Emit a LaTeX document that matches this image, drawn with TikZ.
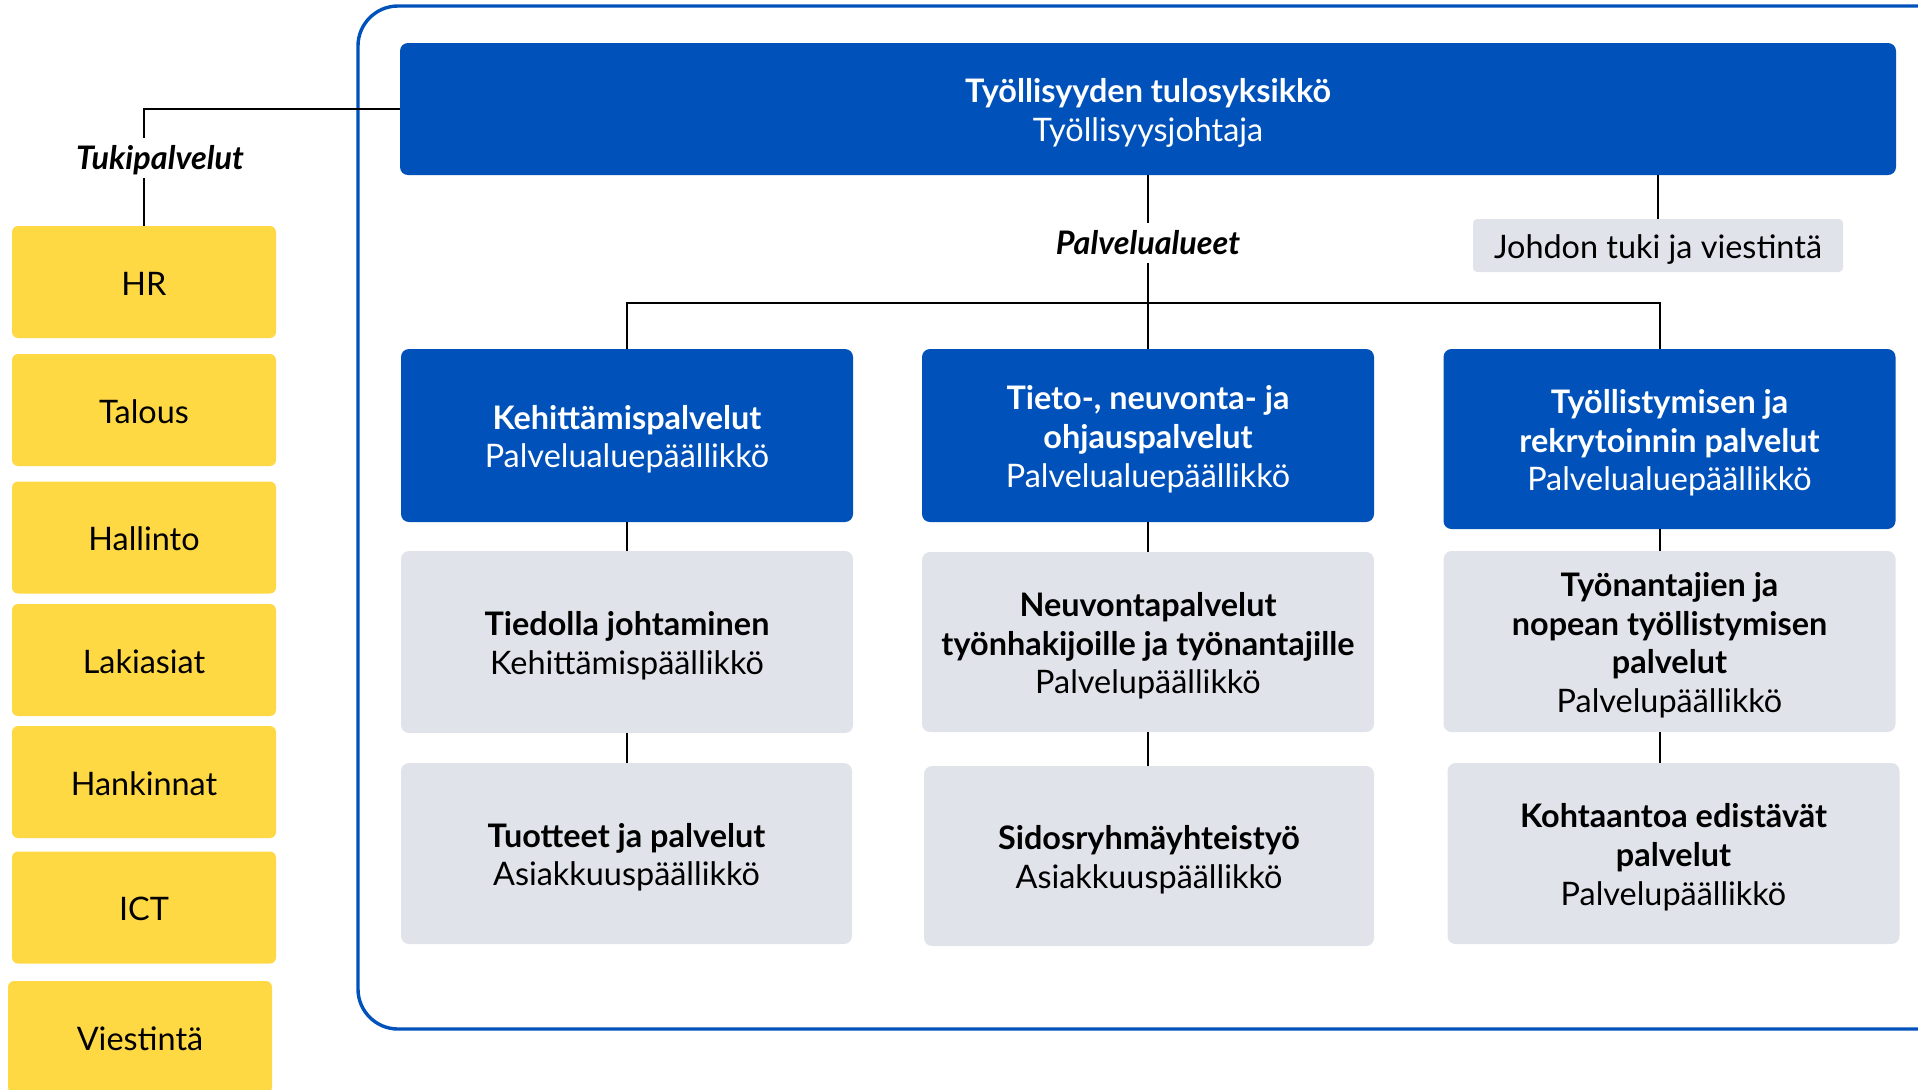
\documentclass[tikz,border=0pt]{standalone}
\usepackage{fontspec}
\setmainfont{Lato}
\usetikzlibrary{positioning}
\definecolor{tkblue}{HTML}{0052BA}
\definecolor{tkgray}{HTML}{E0E4EA}
\definecolor{tkyellow}{HTML}{FFD944}
\newcommand{\tkstrut}{\rule{0pt}{17.5pt}}
\tikzset{
	box/.style={align=center,inner sep=0pt,font=\fontsize{16.2}{19.3}\selectfont,
		execute at begin node={\tkstrut},execute at end node={\rule[-4.5pt]{0pt}{4.5pt}}},
	area/.style={box,fill=tkblue,text=white,rounded corners=4pt,minimum width=226pt},
	unit/.style={box,fill=tkgray,rounded corners=4pt,minimum width=226pt},
	support/.style={box,fill=tkyellow,rounded corners=3pt,minimum width=132pt,minimum height=56pt},
	conn/.style={line width=1.3pt},
	heading/.style={font=\fontsize{16.2}{19.3}\selectfont\bfseries\itshape,inner sep=2.5pt,text height=13pt,text depth=1.5pt}
}

\begin{document}
\begin{tikzpicture}[x=0.5pt,y=-0.5pt]
		\useasboundingbox (0,0) rectangle (1918,1089);
		\clip (0,0) rectangle (1918,1089);
		\draw[tkblue,line width=1.7pt,rounded corners=20pt](358,6) rectangle (1960,1029);
		\node[area,minimum width=748pt,minimum height=66pt] (top) at (1148,109) {\tkstrut\textbf{Työllisyyden tulosyksikkö}\\Työllisyysjohtaja};
		\node[heading] (areas) at (1148,243) {Palvelualueet};
		\node[box,fill=tkgray,rounded corners=2pt,minimum width=185pt,minimum height=26.5pt] (staff) at (1658,245.5) {Johdon tuki ja viestintä};
		\node[heading] (tuki) at (160,158) {Tukipalvelut};
		\node[area,minimum height=86.5pt] (a1) at (627,435.5) {\tkstrut\textbf{Kehittämispalvelut}\\Palvelualuepäällikkö};
		\node[area,minimum height=86.5pt] (a2) at (1148,435.5) {\tkstrut\textbf{Tieto-, neuvonta- ja}\\\textbf{ohjauspalvelut}\\Palvelualuepäällikkö};
		\node[area,minimum height=90pt] (a3) at (1669.5,439) {\tkstrut\textbf{Työllistymisen ja}\\\textbf{rekrytoinnin palvelut}\\Palvelualuepäällikkö};
		\node[unit,minimum height=91pt] (b1) at (627,642) {\tkstrut\textbf{Tiedolla johtaminen}\\Kehittämispäällikkö};
		\node[unit,minimum height=90pt] (b2) at (1148,642) {\tkstrut\textbf{Neuvontapalvelut}\\\textbf{työnhakijoille ja työnantajille}\\Palvelupäällikkö};
		\node[unit,minimum height=90.5pt] (b3) at (1669.5,641.5) {\tkstrut\textbf{Työnantajien ja}\\\textbf{nopean työllistymisen}\\\textbf{palvelut}\\Palvelupäällikkö};
		\node[unit,minimum width=225.5pt,minimum height=90.5pt] (c1) at (626.5,853.5) {\tkstrut\textbf{Tuotteet ja palvelut}\\Asiakkuuspäällikkö};
		\node[unit,minimum width=225pt,minimum height=90pt] (c2) at (1149,856) {\tkstrut\textbf{Sidosryhmäyhteistyö}\\Asiakkuuspäällikkö};
		\node[unit,minimum height=90.5pt] (c3) at (1673.5,853.5) {\tkstrut\textbf{Kohtaantoa edistävät}\\\textbf{palvelut}\\Palvelupäällikkö};
		\foreach \txt/\x/\y [count=\i] in {HR/144/282,Talous/144/410,Hallinto/144/537.5,Lakiasiat/144/660,Hankinnat/144/782,ICT/144/907.5,Viestintä/140/1037}
		\node[support] (s\i) at (\x,\y) {\txt};
		\coordinate (rline) at (1660,303);
		\draw[conn](top.south)--(areas.north);
		\draw[conn](areas.south)--(a2.north);
		\draw[conn](a1.north) |- (rline)--(rline |- a3.north);
		\draw[conn](a1.south)--(b1.north);
		\draw[conn](b1.south)--(b1.south |- c1.north);
		\draw[conn](a2.south)--(b2.north);
		\draw[conn](b2.south)--(b2.south |- c2.north);
		\draw[conn](rline |- a3.south)--(rline |- b3.north);
		\draw[conn](rline |- b3.south)--(rline |- c3.north);
		\draw[conn](staff.north |- top.south)--(staff.north);
		\draw[conn](top.west) -| (s1.north |- tuki.north);
		\draw[conn](s1.north |- tuki.south)--(s1.north);
\end{tikzpicture}
\end{document}
